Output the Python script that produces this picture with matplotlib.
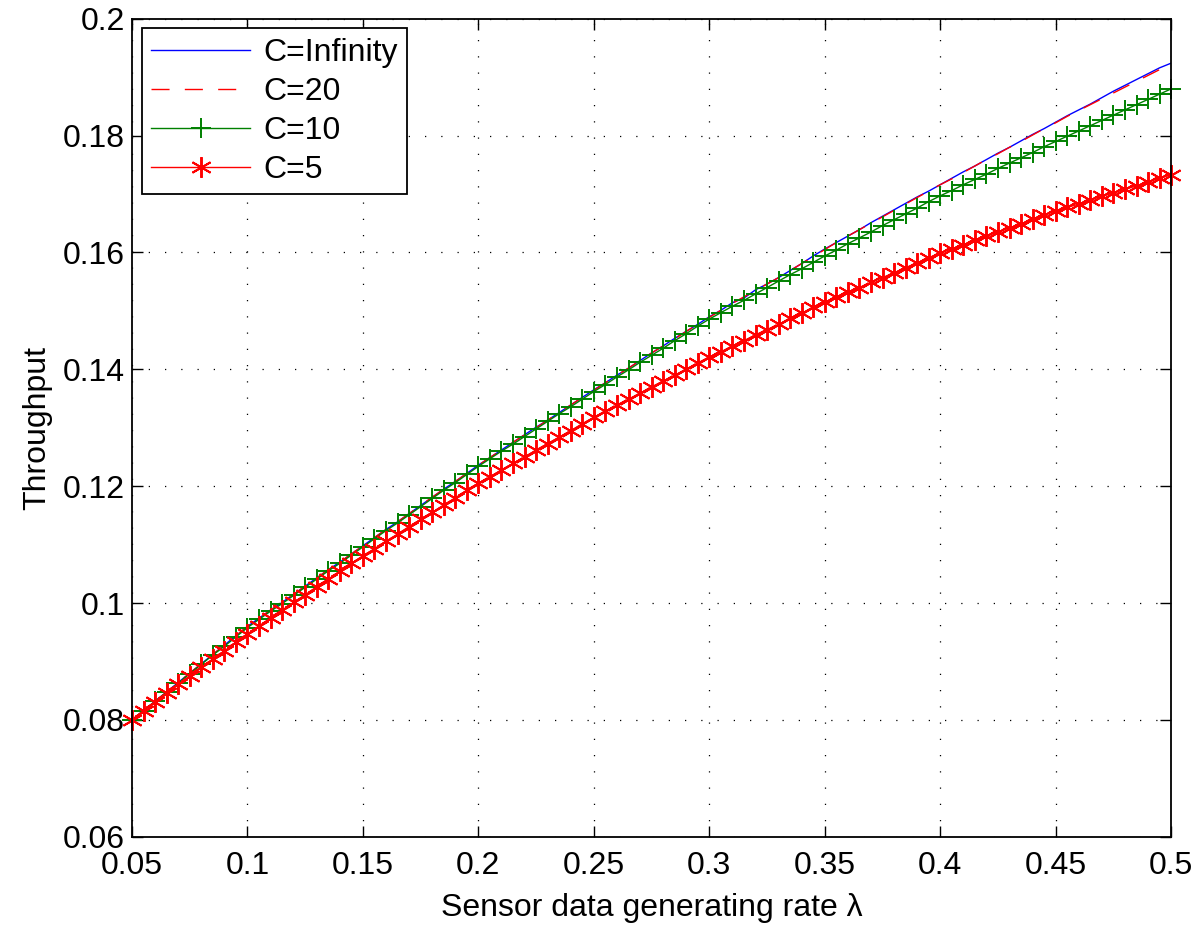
import numpy as np
import matplotlib
matplotlib.use("Agg")
import matplotlib.pyplot as plt

plt.rcParams['font.family'] = ['Liberation Sans', 'DejaVu Sans']

# sensor data generating rate, step 0.005
lam = np.round(np.arange(0.05, 0.5001, 0.005), 3)

thr_inf = [
    0.0800, 0.0816, 0.0832, 0.0848, 0.0864, 0.0880, 0.0896, 0.0912, 0.0928, 0.0944, 0.0960,
    0.0974, 0.0988, 0.1001, 0.1015, 0.1029, 0.1043, 0.1057, 0.1070, 0.1084, 0.1098,
    0.1112, 0.1126, 0.1139, 0.1153, 0.1167, 0.1181, 0.1195, 0.1208, 0.1222, 0.1236,
    0.1249, 0.1262, 0.1275, 0.1288, 0.1301, 0.1313, 0.1326, 0.1339, 0.1352, 0.1365,
    0.1377, 0.1390, 0.1402, 0.1415, 0.1428, 0.1440, 0.1453, 0.1465, 0.1477, 0.1490,
    0.1501, 0.1514, 0.1522, 0.1536, 0.1546, 0.1557, 0.1569, 0.1581, 0.1594, 0.1606,
    0.1617, 0.1628, 0.1639, 0.1651, 0.1662, 0.1673, 0.1684, 0.1695, 0.1705, 0.1716,
    0.1727, 0.1738, 0.1748, 0.1759, 0.1770, 0.1780, 0.1791, 0.1802, 0.1812, 0.1823,
    0.1834, 0.1844, 0.1854, 0.1865, 0.1876, 0.1886, 0.1896, 0.1906, 0.1916, 0.1924,
]

thr_20 = [
    0.0800, 0.0816, 0.0832, 0.0848, 0.0864, 0.0880, 0.0896, 0.0912, 0.0928, 0.0944, 0.0960,
    0.0974, 0.0988, 0.1001, 0.1015, 0.1029, 0.1043, 0.1057, 0.1070, 0.1084, 0.1098,
    0.1112, 0.1126, 0.1139, 0.1153, 0.1167, 0.1181, 0.1195, 0.1208, 0.1222, 0.1236,
    0.1249, 0.1262, 0.1275, 0.1288, 0.1300, 0.1313, 0.1326, 0.1339, 0.1352, 0.1364,
    0.1377, 0.1390, 0.1402, 0.1415, 0.1428, 0.1440, 0.1452, 0.1465, 0.1477, 0.1489,
    0.1501, 0.1513, 0.1524, 0.1535, 0.1546, 0.1557, 0.1569, 0.1581, 0.1593, 0.1605,
    0.1617, 0.1628, 0.1639, 0.1650, 0.1661, 0.1672, 0.1683, 0.1694, 0.1705, 0.1716,
    0.1726, 0.1737, 0.1748, 0.1759, 0.1769, 0.1780, 0.1790, 0.1801, 0.1812, 0.1822,
    0.1833, 0.1843, 0.1853, 0.1863, 0.1873, 0.1883, 0.1893, 0.1903, 0.1913, 0.1921,
]

thr_10 = [
    0.0800, 0.0816, 0.0832, 0.0847, 0.0863, 0.0879, 0.0895, 0.0911, 0.0926, 0.0942, 0.0958,
    0.0972, 0.0986, 0.0999, 0.1013, 0.1027, 0.1041, 0.1055, 0.1068, 0.1082, 0.1096,
    0.1110, 0.1124, 0.1137, 0.1151, 0.1165, 0.1179, 0.1193, 0.1206, 0.1220, 0.1234,
    0.1247, 0.1260, 0.1272, 0.1285, 0.1298, 0.1311, 0.1324, 0.1336, 0.1349, 0.1362,
    0.1374, 0.1387, 0.1399, 0.1412, 0.1424, 0.1436, 0.1449, 0.1461, 0.1474, 0.1486,
    0.1497, 0.1508, 0.1518, 0.1529, 0.1540, 0.1551, 0.1562, 0.1572, 0.1583, 0.1594,
    0.1604, 0.1615, 0.1625, 0.1635, 0.1646, 0.1656, 0.1666, 0.1676, 0.1687, 0.1697,
    0.1706, 0.1716, 0.1725, 0.1734, 0.1744, 0.1753, 0.1762, 0.1771, 0.1781, 0.1790,
    0.1799, 0.1808, 0.1817, 0.1826, 0.1835, 0.1844, 0.1853, 0.1862, 0.1871, 0.1880,
]

thr_5 = [
    0.0800, 0.0816, 0.0831, 0.0846, 0.0861, 0.0875, 0.0890, 0.0904, 0.0918, 0.0933, 0.0947,
    0.0961, 0.0974, 0.0988, 0.1001, 0.1014, 0.1028, 0.1041, 0.1054, 0.1068, 0.1081,
    0.1093, 0.1106, 0.1118, 0.1131, 0.1143, 0.1155, 0.1168, 0.1180, 0.1193, 0.1205,
    0.1216, 0.1228, 0.1239, 0.1250, 0.1262, 0.1273, 0.1284, 0.1295, 0.1307, 0.1318,
    0.1328, 0.1339, 0.1349, 0.1359, 0.1370, 0.1380, 0.1390, 0.1400, 0.1411, 0.1421,
    0.1430, 0.1440, 0.1449, 0.1459, 0.1468, 0.1477, 0.1487, 0.1496, 0.1506, 0.1515,
    0.1523, 0.1532, 0.1540, 0.1549, 0.1557, 0.1565, 0.1574, 0.1582, 0.1591, 0.1599,
    0.1606, 0.1613, 0.1621, 0.1628, 0.1635, 0.1642, 0.1649, 0.1657, 0.1664, 0.1671,
    0.1677, 0.1683, 0.1690, 0.1696, 0.1702, 0.1708, 0.1714, 0.1721, 0.1727, 0.1733,
]

x_ticks = [0.05, 0.1, 0.15, 0.2, 0.25, 0.3, 0.35, 0.4, 0.45, 0.5]
x_tick_labels = ['0.05', '0.1', '0.15', '0.2', '0.25', '0.3', '0.35', '0.4', '0.45', '0.5']
y_ticks = [0.06, 0.08, 0.1, 0.12, 0.14, 0.16, 0.18, 0.2]
y_tick_labels = ['0.06', '0.08', '0.1', '0.12', '0.14', '0.16', '0.18', '0.2']

fig = plt.figure(figsize=(12, 9.36), dpi=100)
ax = fig.add_axes([0.110, 0.106, 0.866, 0.874])

ax.plot(lam, thr_inf, color='blue', lw=1.0, label='C=Infinity')
ax.plot(lam, thr_20, color='red', lw=1.0, ls=(0, (13, 11)), label='C=20')
ax.plot(lam, thr_10, color=(0, 0.5, 0), lw=1.0, marker='+', ms=14, mew=1.4,
        label='C=10', clip_on=False)
ax.plot(lam, thr_5, color='red', lw=1.0, marker=(6, 2, 0), ms=15, mew=1.4,
        label='C=5', clip_on=False)

ax.set_xlim(0.05, 0.5)
ax.set_ylim(0.06, 0.2)
ax.set_xticks(x_ticks)
ax.set_xticklabels(x_tick_labels)
ax.set_yticks(y_ticks)
ax.set_yticklabels(y_tick_labels)
ax.tick_params(direction='in', length=8, width=1, labelsize=23,
               top=True, right=True)
ax.tick_params(axis='x', pad=10)
ax.tick_params(axis='y', pad=5)
ax.grid(True, color='black', ls=(0, (1, 12)), lw=0.9)
for s in ax.spines.values():
    s.set_linewidth(1.3)

ax.set_xlabel('Sensor data generating rate λ', fontsize=23, labelpad=9)
ax.set_ylabel('Throughput', fontsize=23, labelpad=8)

leg = ax.legend(loc='upper left', fontsize=23, handlelength=3.1, fancybox=False,
                framealpha=1, edgecolor='black', borderaxespad=0.3,
                labelspacing=0.28, borderpad=0.3, handletextpad=0.4)
leg.get_frame().set_linewidth(1.3)

fig.savefig('out.png', dpi=100)
